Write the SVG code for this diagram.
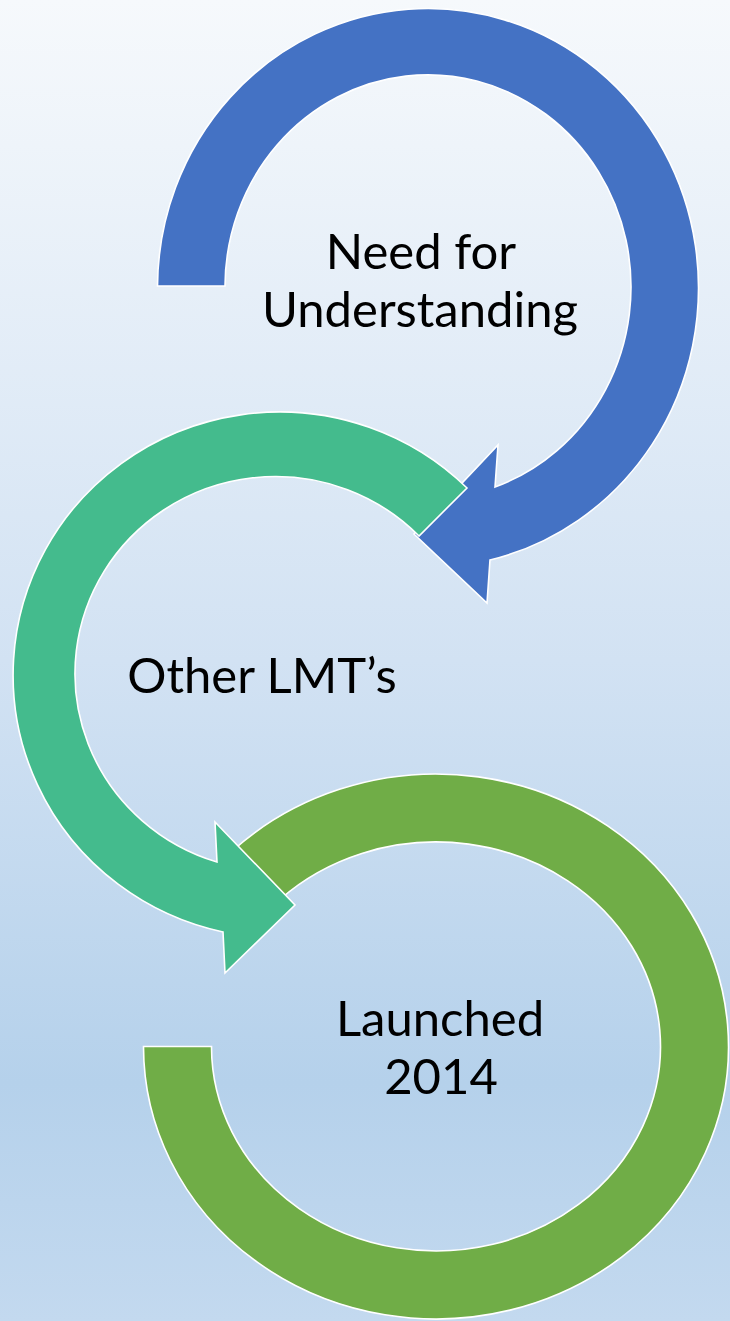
<svg xmlns="http://www.w3.org/2000/svg" width="730" height="1321" viewBox="0 0 730 1321">
<defs>
<linearGradient id="bg" x1="0" y1="0" x2="0" y2="1">
<stop offset="0" stop-color="#F6F9FC"/>
<stop offset="0.5" stop-color="#D2E2F3"/>
<stop offset="0.82" stop-color="#B5D1EB"/>
<stop offset="1" stop-color="#C3D9EF"/>
</linearGradient>
<style>
.arrow{stroke:#FFFFFF;stroke-width:1.6;stroke-linejoin:miter}
.blue{fill:#4472C4}
.teal{fill:#44BB8D}
.green{fill:#70AD47}
.lbl{font-family:Lato,"Liberation Sans","DejaVu Sans",sans-serif;font-size:49px;fill:#000000;text-anchor:middle}
</style>
</defs>
<rect x="0" y="0" width="730" height="1321" fill="url(#bg)"/>
<g id="connectors"/>
<g id="node-need">
<path class="arrow blue" d="M 157.5 286 A 270.5 279.5 0 1 1 490 560 L 487 603 L 414 534 L 498 445 L 495 487 A 203 212 0 1 0 225 286 Z"/>
<text class="lbl" x="421" y="269">Need for</text>
<text class="lbl" x="420" y="327">Understanding</text>
</g>
<g id="node-launched">
<path class="arrow green" d="M 232.8 850.5 A 292.5 272.5 0 1 1 143.5 1046.5 L 211.5 1046.5 A 224.5 204.5 0 1 0 280 899.4 Z"/>
<text class="lbl" x="440" y="1036">Launched</text>
<text class="lbl" x="441" y="1094">2014</text>
</g>
<g id="node-lmt">
<path class="arrow teal" d="M 467 488 A 266.5 263 0 1 0 223 932 L 225 973 L 295 905 L 215 822 L 217 862 A 200.5 197 0 1 1 419 536 Z"/>
<text class="lbl" x="262" y="693">Other LMT’s</text>
</g>
</svg>
